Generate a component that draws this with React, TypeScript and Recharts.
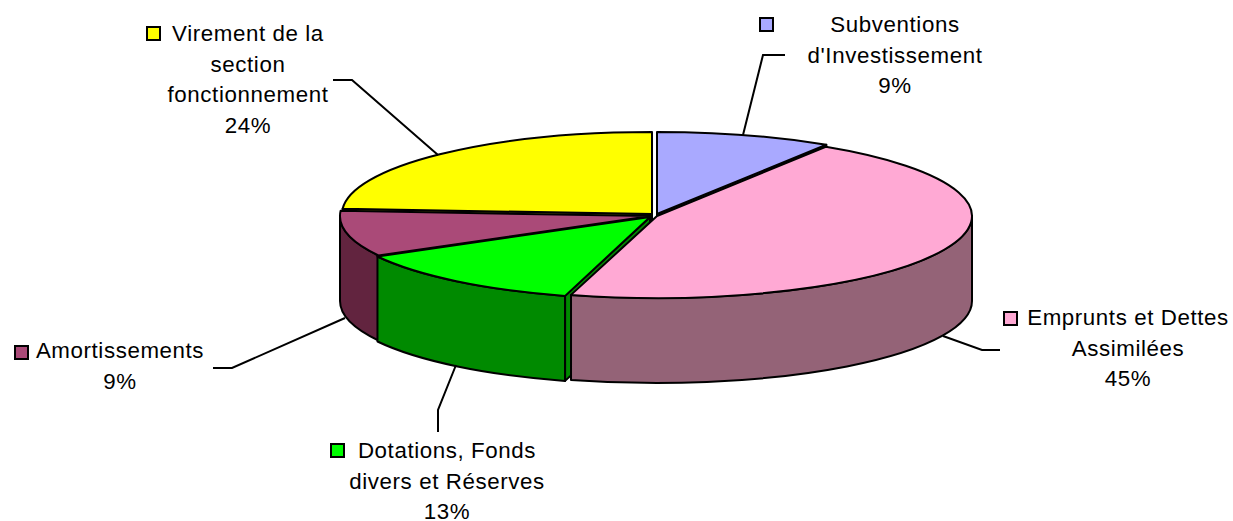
import { PieChart, Pie } from 'recharts';

// same order as the pie is drawn: counter-clockwise from the Subventions edge, so the front slices paint last
const names = [
  'Subventions d\'Investissement',
  'Virement de la section fonctionnement',
  'Amortissements',
  'Dotations, Fonds divers et Réserves',
  'Emprunts et Dettes Assimilées',
];
const values = [9, 24, 9, 12.6, 45.4];
const topColors = ['#a9a9ff', '#ffff00', '#aa4a78', '#00ff00', '#ffa9d4'];
const wallColors = ['#6c6ca6', '#8a8a00', '#62243f', '#008a00', '#946377'];
const labelLines = [
  ['Subventions', "d'Investissement"],
  ['Virement de la', 'section', 'fonctionnement'],
  ['Amortissements'],
  ['Dotations, Fonds', 'divers et Réserves'],
  ['Emprunts et Dettes', 'Assimilées'],
];

// explosion of each slice: x shift, y shift, x radius
const sliceDx = [2, -3, -4, -5, 2];
const sliceDy = [0, 0, 2, 3, 2];
const sliceRx = [316, 310, 311, 311, 315];

// label placement: text centre, first baseline, legend key, leader line
const labelX = [895, 248, 120, 447, 1128];
const labelY = [32, 41, 358, 458, 325];
const keyX = [760, 147, 15, 331, 1004];
const keyY = [18, 27, 346, 444, 312];
const leaders = [
  '743,135 763,55 785,55',
  '333,80 352,80 438,155',
  '213,368 232,368 345,318',
  '456,365 438,410 438,432',
  '943,336 982,350 1000,350',
];

const CX = 655;
const CY = 214;
const RY = 82;
const DEPTH = 85;
const LINE_HEIGHT = 30.5;
const RAD = Math.PI / 180;

const data = names.map((name, i) => ({ name, value: values[i], fill: topColors[i] }));

function SliceShape(props: any) {
  const i = names.indexOf(props.name);
  const cx = props.cx + sliceDx[i];
  const cy = props.cy + sliceDy[i];
  const rx = sliceRx[i];
  const lo = Math.min(props.startAngle, props.endAngle);
  const hi = Math.max(props.startAngle, props.endAngle);
  const px = (a: number) => cx + rx * Math.cos(a * RAD);
  const py = (a: number) => cy - RY * Math.sin(a * RAD);
  const large = hi - lo > 180 ? 1 : 0;

  const walls: string[] = [];
  // outer wall, only where the rim faces the viewer (180-360 deg)
  for (let n = -1; n <= 1; n++) {
    const a1 = Math.max(lo, 180 + n * 360);
    const a2 = Math.min(hi, 360 + n * 360);
    if (a2 > a1) {
      walls.push(
        `M${px(a2)},${py(a2)} A${rx},${RY} 0 0 1 ${px(a1)},${py(a1)} ` +
          `L${px(a1)},${py(a1) + DEPTH} A${rx},${RY} 0 0 0 ${px(a2)},${py(a2) + DEPTH} Z`
      );
    }
  }
  // cut faces, when they turn towards the viewer
  const cutFace = (a: number) =>
    `M${cx},${cy} L${px(a)},${py(a)} L${px(a)},${py(a) + DEPTH} L${cx},${cy + DEPTH} Z`;
  if (Math.sin((lo - 90) * RAD) < 0) walls.push(cutFace(lo));
  if (Math.sin((hi + 90) * RAD) < 0) walls.push(cutFace(hi));

  const top =
    `M${cx},${cy} L${px(hi)},${py(hi)} ` +
    `A${rx},${RY} 0 ${large} 1 ${px(lo)},${py(lo)} Z`;

  return (
    <g>
      {walls.map((d, k) => (
        <path key={k} d={d} fill={wallColors[i]} stroke="#000" strokeWidth={2} strokeLinejoin="round" />
      ))}
      <path d={top} fill={topColors[i]} stroke="#000" strokeWidth={2} strokeLinejoin="round" />
    </g>
  );
}

function SliceLabel(props: any) {
  const i = props.index;
  const lines = [...labelLines[i], `${Math.round(values[i])}%`];
  return (
    <g>
      <polyline points={leaders[i]} fill="none" stroke="#000" strokeWidth={2} />
      <rect x={keyX[i]} y={keyY[i]} width={13} height={13} fill={topColors[i]} stroke="#000" strokeWidth={2} />
      <text
        textAnchor="middle"
        fontFamily="'Liberation Sans', Arial, sans-serif"
        fontSize={22.3}
        letterSpacing={0.6}
        fill="#000"
      >
        {lines.map((line, k) => (
          <tspan key={k} x={labelX[i]} y={labelY[i] + k * LINE_HEIGHT}>
            {line}
          </tspan>
        ))}
      </text>
    </g>
  );
}

export default function App() {
  return (
    <div style={{ position: 'absolute', left: 0, top: 0, width: 1233, height: 521, background: '#fff' }}>
      <PieChart width={1233} height={521} margin={{ top: 0, right: 0, bottom: 0, left: 0 }}>
        <Pie
          data={data}
          dataKey="value"
          nameKey="name"
          cx={CX}
          cy={CY}
          outerRadius={316}
          startAngle={57.6}
          endAngle={417.6}
          paddingAngle={0}
          shape={SliceShape}
          label={SliceLabel}
          labelLine={false}
          isAnimationActive={false}
        />
      </PieChart>
    </div>
  );
}
